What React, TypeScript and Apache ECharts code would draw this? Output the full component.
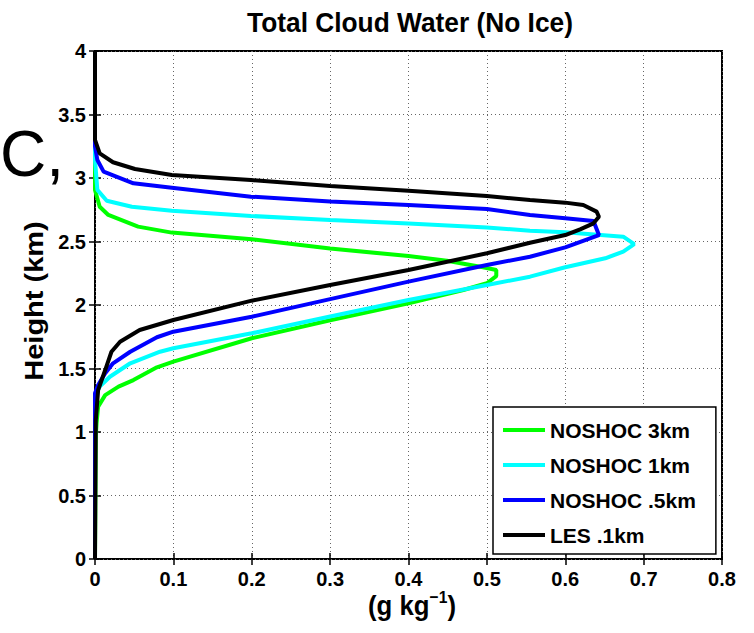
import React, { useEffect, useRef } from 'react';
import * as echarts from 'echarts';

// Series names (legend order)
const seriesNames = ['NOSHOC 3km', 'NOSHOC 1km', 'NOSHOC .5km', 'LES .1km'];
const seriesColors = ['#00ff00', '#00ffff', '#0000ff', '#000000'];

// NOSHOC 3km: cloud water (g/kg) vs height (km)
const cloud3km = [0, 0.001, 0.002, 0.004, 0.013, 0.03, 0.049, 0.079, 0.1, 0.2, 0.3, 0.4, 0.47, 0.5, 0.512, 0.512, 0.495, 0.449, 0.4, 0.3, 0.2, 0.098, 0.055, 0.017, 0.006, 0, 0];
const height3km = [0, 0.97, 1.07, 1.2, 1.29, 1.357, 1.409, 1.509, 1.554, 1.738, 1.88, 2.013, 2.118, 2.171, 2.228, 2.276, 2.297, 2.349, 2.385, 2.445, 2.518, 2.57, 2.617, 2.709, 2.774, 2.906, 4];

// NOSHOC 1km
const cloud1km = [0, 0, 0.006, 0.019, 0.045, 0.083, 0.1, 0.2, 0.3, 0.4, 0.5, 0.555, 0.6, 0.651, 0.674, 0.688, 0.674, 0.6, 0.555, 0.5, 0.4, 0.3, 0.199, 0.098, 0.047, 0.015, 0.003, 0, 0];
const height1km = [0, 1.29, 1.357, 1.435, 1.541, 1.632, 1.659, 1.777, 1.91, 2.039, 2.157, 2.223, 2.297, 2.368, 2.42, 2.48, 2.538, 2.572, 2.585, 2.61, 2.642, 2.67, 2.701, 2.743, 2.774, 2.821, 2.906, 3.142, 4];

// NOSHOC .5km
const cloud05km = [0, 0, 0.004, 0.013, 0.023, 0.045, 0.079, 0.1, 0.2, 0.3, 0.4, 0.5, 0.555, 0.6, 0.643, 0.636, 0.6, 0.555, 0.5, 0.4, 0.3, 0.199, 0.098, 0.049, 0.011, 0.003, 0, 0];
const height05km = [0, 1.305, 1.37, 1.462, 1.541, 1.632, 1.746, 1.79, 1.908, 2.046, 2.184, 2.315, 2.38, 2.454, 2.551, 2.661, 2.683, 2.709, 2.756, 2.787, 2.815, 2.853, 2.924, 2.958, 3.05, 3.142, 3.25, 4];

// LES .1km
const cloudLes = [0, 0.001, 0.004, 0.013, 0.021, 0.032, 0.057, 0.1, 0.2, 0.3, 0.4, 0.5, 0.555, 0.6, 0.619, 0.636, 0.643, 0.64, 0.623, 0.6, 0.555, 0.5, 0.4, 0.3, 0.199, 0.098, 0.051, 0.023, 0.006, 0, 0];
const heightLes = [0, 1.094, 1.33, 1.488, 1.632, 1.711, 1.803, 1.882, 2.034, 2.157, 2.276, 2.407, 2.49, 2.551, 2.596, 2.643, 2.695, 2.735, 2.787, 2.806, 2.827, 2.858, 2.9, 2.937, 2.984, 3.024, 3.071, 3.124, 3.194, 3.3, 4];

const FONT = '"Liberation Sans", Arial, Helvetica, sans-serif';

export default function App() {
  const ref = useRef<HTMLDivElement>(null);

  useEffect(() => {
    if (!ref.current) return;
    const chart = echarts.init(ref.current, null, { renderer: 'svg' });
    const pairs = (xs: number[], ys: number[]) => xs.map((x, i) => [x, ys[i]]);
    const allData = [
      pairs(cloud3km, height3km),
      pairs(cloud1km, height1km),
      pairs(cloud05km, height05km),
      pairs(cloudLes, heightLes),
    ];

    const tick = { show: true, inside: true, length: 6, lineStyle: { color: '#000', width: 1.5 } };
    const grid = { color: '#666', type: [1, 3], width: 1 };
    const label = { color: '#000', fontSize: 20, fontWeight: 'bold', fontFamily: FONT };

    chart.setOption({
      animation: false,
      backgroundColor: '#ffffff',
      grid: {
        left: 95, top: 51, width: 627, height: 508,
        show: true, borderColor: '#000', borderWidth: 2, backgroundColor: 'transparent',
      },
      xAxis: [
        {
          type: 'value', min: 0, max: 0.8, interval: 0.1, position: 'bottom',
          axisLine: { show: false }, axisTick: tick,
          axisLabel: { ...label, margin: 10 },
          splitLine: { show: true, lineStyle: grid },
        },
        {
          type: 'value', min: 0, max: 0.8, interval: 0.1, position: 'top',
          axisLine: { show: false }, axisTick: tick,
          axisLabel: { show: false }, splitLine: { show: false },
        },
      ],
      yAxis: [
        {
          type: 'value', min: 0, max: 4, interval: 0.5, position: 'left',
          axisLine: { show: false }, axisTick: tick,
          axisLabel: { ...label, margin: 9 },
          splitLine: { show: true, lineStyle: grid },
        },
        {
          type: 'value', min: 0, max: 4, interval: 0.5, position: 'right',
          axisLine: { show: false }, axisTick: tick,
          axisLabel: { show: false }, splitLine: { show: false },
        },
      ],
      legend: {
        data: seriesNames,
        orient: 'vertical',
        left: 493, top: 407,
        icon: 'rect',
        itemWidth: 42, itemHeight: 4, itemGap: 13,
        padding: [12, 20, 8, 10],
        borderColor: '#000', borderWidth: 1.5, backgroundColor: '#fff',
        textStyle: { color: '#000', fontSize: 21, fontWeight: 'bold', fontFamily: FONT, lineHeight: 22 },
      },
      series: seriesNames.map((name, i) => ({
        name,
        type: 'line',
        xAxisIndex: 0,
        yAxisIndex: 0,
        data: allData[i],
        showSymbol: false,
        symbol: 'none',
        color: seriesColors[i],
        lineStyle: { color: seriesColors[i], width: 4 },
        z: 2 + i,
      })),
      graphic: [
        {
          type: 'text', x: 410, y: 22, scaleX: 0.94, z: 100,
          style: {
            text: 'Total Cloud Water (No Ice)', fill: '#000',
            fontSize: 28, fontWeight: 'bold', fontFamily: FONT,
            align: 'center', verticalAlign: 'middle',
          },
        },
        {
          type: 'text', x: 34, y: 301, rotation: Math.PI / 2, scaleY: 0.9, z: 100,
          style: {
            text: 'Height (km)', fill: '#000',
            fontSize: 29, fontWeight: 'bold', fontFamily: FONT,
            align: 'center', verticalAlign: 'middle',
          },
        },
        {
          type: 'text', x: 412, y: 604, scaleX: 0.92, z: 100,
          style: {
            text: '{a|(g kg}{b|−1}{a|)}', fill: '#000',
            align: 'center', verticalAlign: 'middle',
            rich: {
              a: { fontSize: 28, fontWeight: 'bold', fontFamily: FONT, lineHeight: 32, verticalAlign: 'bottom', fill: '#000' },
              b: { fontSize: 17, fontWeight: 'bold', fontFamily: FONT, lineHeight: 18, verticalAlign: 'top', fill: '#000' },
            },
          },
        },
        {
          type: 'text', x: 0, y: 154, z: 100,
          style: {
            text: 'C,', fill: '#000',
            fontSize: 64, fontFamily: FONT,
            align: 'left', verticalAlign: 'middle',
          },
        },
      ],
    });

    return () => chart.dispose();
  }, []);

  return <div ref={ref} style={{ position: 'absolute', left: 0, top: 0, width: 754, height: 633 }} />;
}
